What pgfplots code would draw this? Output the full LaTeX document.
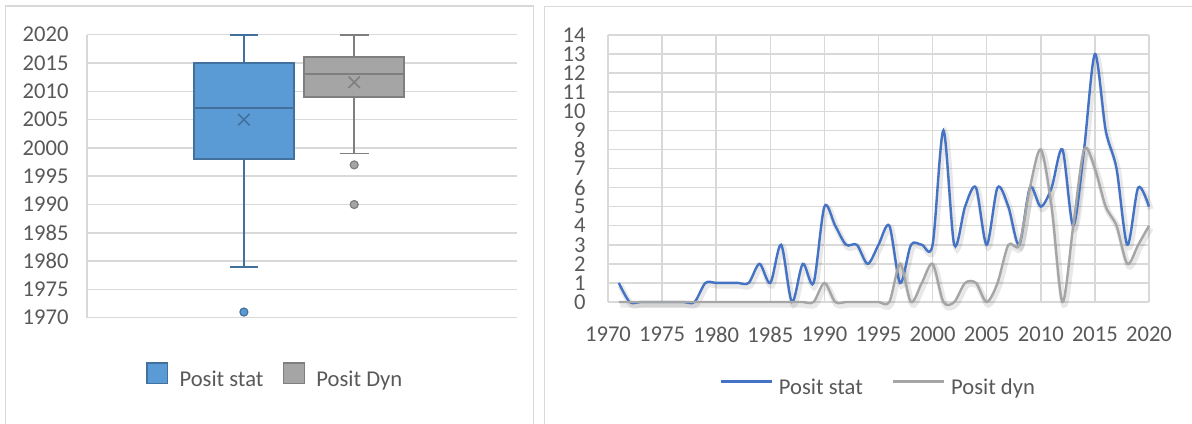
\documentclass[border=0pt]{standalone}
\usepackage{pgfplots}
\pgfplotsset{compat=1.18}
\usepackage{pgfplotstable}
\usepgfplotslibrary{statistics}
\usepackage{fontspec}
\setmainfont{Carlito}
\definecolor{txt}{HTML}{595959}
\definecolor{gridc}{HTML}{D9D9D9}
\definecolor{boxblue}{HTML}{5B9BD5}
\definecolor{boxblueedge}{HTML}{41719C}
\definecolor{boxgray}{HTML}{A5A5A5}
\definecolor{boxgrayedge}{HTML}{7F7F7F}
\definecolor{lineblue}{HTML}{4472C4}
\definecolor{linegray}{HTML}{A5A5A5}
\definecolor{framec}{HTML}{D9D9D9}
\newcommand\fs{\fontsize{11.3}{13.5}\selectfont}

\pgfplotstableread{
year stat dyn
1971 1 0
1972 0 0
1973 0 0
1974 0 0
1975 0 0
1976 0 0
1977 0 0
1978 0 0
1979 1 0
1980 1 0
1981 1 0
1982 1 0
1983 1 0
1984 2 0
1985 1 0
1986 3 0
1987 0 0
1988 2 0
1989 1 0
1990 5 1
1991 4 0
1992 3 0
1993 3 0
1994 2 0
1995 3 0
1996 4 0
1997 1 2
1998 3 0
1999 3 1
2000 3 2
2001 9 0
2002 3 0
2003 5 1
2004 6 1
2005 3 0
2006 6 1
2007 5 3
2008 3 3
2009 6 6
2010 5 8
2011 6 5
2012 8 0
2013 4 4
2014 8 8
2015 13 7
2016 9 5
2017 7 4
2018 3 2
2019 6 3
2020 5 4
}\series

\begin{document}
\begin{tikzpicture}
% chart frames
\draw[framec, line width=0.6pt] (2.85pt,-5pt) -- (2.85pt,208.5pt) -- (266.65pt,208.5pt) -- (266.65pt,-5pt);
\draw[framec, line width=0.6pt] (272.15pt,-5pt) -- (272.15pt,208.15pt) -- (605pt,208.15pt);

% ---------------- box plot ----------------
\begin{axis}[
  at={(43.6pt,52.65pt)}, anchor=south west, scale only axis,
  width=214.75pt, height=141.5pt,
  xmin=0, xmax=429.5, ymin=1970, ymax=2020,
  ytick={1970,1975,...,2020}, xtick={0}, xticklabels={},
  xmajorgrids, ymajorgrids, grid style={gridc, line width=0.75pt},
  axis line style={draw=none}, major tick length=0pt,
  tick label style={font=\fs, text=txt},
  yticklabel style={inner sep=0pt, xshift=-9.15pt},
  /pgf/number format/assume math mode=true,
  /pgf/number format/1000 sep={},
  clip=false,
  boxplot/draw direction=y,
  legend style={at={(0.4354,-0.206)}, anchor=center, draw=none, fill=none,
    font=\fs, text=txt, legend columns=-1,
    /tikz/every odd column/.append style={column sep=5.7pt},
    /tikz/every even column/.append style={column sep=9.75pt},
    nodes={inner sep=0pt}},
]
\addplot[boxplot prepared={lower whisker=1979, lower quartile=1998, median=2007,
    upper quartile=2015, upper whisker=2020, draw position=156.7,
    box extend=100, whisker extend=28.6, draw direction=y},
  draw=boxblueedge, fill=boxblue, line width=0.9pt, solid,
  mark=*, mark size=2pt, mark options={fill=boxblue, draw=boxblueedge, line width=0.6pt},
  legend image code/.code={\draw[draw=boxblueedge, fill=boxblue, line width=0.75pt] (0pt,-1.5pt) rectangle (10.3pt,8.8pt);}]
  table[row sep=\\, y index=0] {y\\ 1971\\};
\addlegendentry{Posit stat}
\addplot[boxplot prepared={lower whisker=1999, lower quartile=2009, median=2013,
    upper quartile=2016, upper whisker=2020, draw position=267,
    box extend=100, whisker extend=28.6, draw direction=y},
  draw=boxgrayedge, fill=boxgray, line width=0.9pt, solid,
  mark=*, mark size=2pt, mark options={fill=boxgray, draw=boxgrayedge, line width=0.6pt},
  legend image code/.code={\draw[draw=boxgrayedge, fill=boxgray, line width=0.75pt] (0pt,-1.5pt) rectangle (10.3pt,8.8pt);}]
  table[row sep=\\, y index=0] {y\\ 1997\\ 1990\\};
\addlegendentry{Posit Dyn}
\addplot[forget plot, only marks, mark=x, mark size=4pt,
  mark options={draw=boxblueedge, line width=0.75pt}] coordinates {(156.7,2005.0)};
\addplot[forget plot, only marks, mark=x, mark size=4pt,
  mark options={draw=boxgrayedge, line width=0.75pt}] coordinates {(267,2011.6)};
\end{axis}

% ---------------- line chart ----------------
\begin{axis}[
  at={(304pt,60.5pt)}, anchor=south west, scale only axis,
  width=270.5pt, height=133.5pt,
  xmin=1970, xmax=2020, ymin=0, ymax=14,
  xtick={1970,1975,...,2020}, ytick={0,1,...,14},
  xmajorgrids, ymajorgrids, grid style={gridc, line width=0.75pt},
  axis line style={draw=none}, major tick length=0pt,
  tick label style={font=\fs, text=txt},
  xticklabel style={inner sep=0pt, yshift=-12.2pt},
  yticklabel style={inner sep=0pt, xshift=-11pt},
  /pgf/number format/assume math mode=true,
  /pgf/number format/1000 sep={},
  clip=false,
  legend style={at={(0.4976,-0.322)}, anchor=center, draw=none, fill=none,
    font=\fs, text=txt, legend columns=-1,
    /tikz/every odd column/.append style={column sep=2.9pt},
    /tikz/every even column/.append style={column sep=14.4pt},
    nodes={inner sep=0pt}},
]
\addplot[forget plot, smooth, black, opacity=0.09, line width=3pt, xshift=0.8pt, yshift=-1.3pt]
  table[x=year, y=dyn]{\series};
\addplot[forget plot, smooth, black, opacity=0.09, line width=3pt, xshift=0.8pt, yshift=-1.3pt]
  table[x=year, y=stat]{\series};
\addplot[smooth, lineblue, line width=1.2pt,
  legend image code/.code={\draw[lineblue, line width=1.1pt] (0pt,3.2pt) -- (25.75pt,3.2pt);}]
  table[x=year, y=stat]{\series};
\addlegendentry{Posit stat}
\addplot[smooth, linegray, line width=1.2pt,
  legend image code/.code={\draw[linegray, line width=1.1pt] (0pt,3.2pt) -- (25.75pt,3.2pt);}]
  table[x=year, y=dyn]{\series};
\addlegendentry{Posit dyn}
\end{axis}

\pgfresetboundingbox
\useasboundingbox (0,0) rectangle (596pt,211.5pt);
\end{tikzpicture}
\end{document}
